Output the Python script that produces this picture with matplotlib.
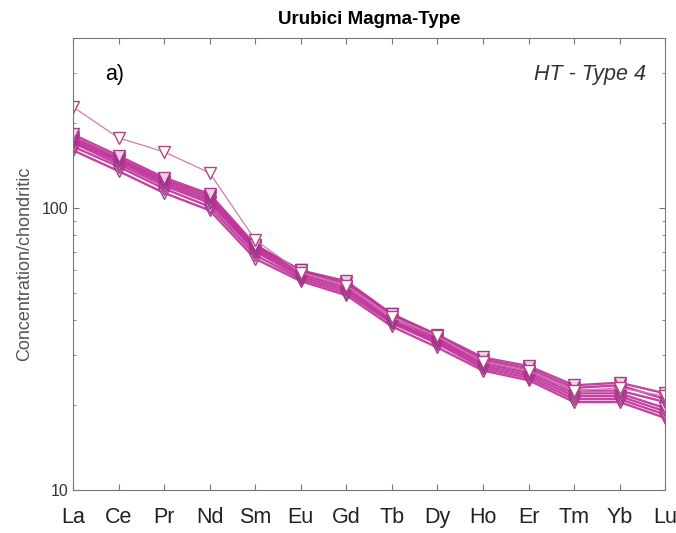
import numpy as np
import matplotlib.pyplot as plt
from matplotlib.ticker import LogLocator, NullFormatter

elements = ['La', 'Ce', 'Pr', 'Nd', 'Sm', 'Eu', 'Gd', 'Tb', 'Dy', 'Ho', 'Er', 'Tm', 'Yb', 'Lu']

# chondrite-normalised REE, HT - Type 4 samples
s1 = [160, 135, 113, 98, 66, 55, 49, 38, 32, 26.5, 24.5, 20.5, 20.5, 18.0]
s2 = [165, 140, 117, 101, 68, 56, 50, 39, 33, 27.0, 25.0, 21.0, 21.0, 18.5]
s3 = [170, 143, 120, 104, 70, 57, 51, 39.5, 33.5, 27.5, 25.5, 21.5, 21.5, 19.0]
s4 = [172, 146, 122, 106, 71, 58, 52, 40, 34, 28.0, 26.0, 22.0, 22.0, 19.5]
s5 = [175, 148, 124, 108, 72, 59, 53, 41, 34.5, 28.5, 26.5, 22.5, 22.5, 20.5]
s6 = [178, 150, 126, 110, 73, 60, 54, 42, 35, 29.0, 27.0, 23.0, 23.5, 21.0]
s7 = [182, 153, 128, 112, 74, 60, 55, 42, 35.5, 29.5, 27.5, 23.5, 24.0, 22.0]
outlier = [228, 177, 158, 133, 77, 59, 53, 41, 35, 28.5, 26.5, 22.5, 23.0, 21.5]

bundle = [s1, s2, s3, s4, s5, s6, s7]
x = np.arange(1, len(elements) + 1)

plt.rcParams['font.family'] = ['Liberation Sans', 'DejaVu Sans']

fig = plt.figure(figsize=(6.76, 5.33), dpi=100)
ax = fig.add_axes([0.108, 0.0807, 0.876, 0.848])

line_col = '#BE3098'
for s in bundle:
    ax.plot(x, s, color=line_col, lw=1.7, marker='v', ms=8,
            mfc='#F6D8EC', mec='#9A2C80', mew=1.0, alpha=0.9)
ax.plot(x, outlier, color='#D27AB6', lw=0.9, marker='v', ms=9,
        mfc='white', mec='#B0477F', mew=1.0)

ax.set_yscale('log')
ax.set_ylim(10, 400)
ax.set_xlim(1, 14)
ax.set_xticks(x)
ax.set_xticklabels(elements, fontsize=15.5, color='#222222')
ax.set_yticks([10, 100])
ax.set_yticklabels(['10', '100'], fontsize=11.5, color='#333333')
ax.yaxis.set_minor_locator(LogLocator(base=10, subs=np.arange(2, 10)))
ax.yaxis.set_minor_formatter(NullFormatter())
ax.tick_params(which='both', direction='in', top=True, right=True, color='#777777')
ax.tick_params(which='major', length=4)
ax.tick_params(which='minor', length=2.5)
ax.tick_params(axis='x', pad=12)
for sp in ax.spines.values():
    sp.set_color('#777777')

ax.set_ylabel('Concentration/chondritic', fontsize=13, color='#555555', labelpad=6)
ax.set_title('Urubici Magma-Type', fontsize=13.5, fontweight='bold', pad=10)
ax.text(0.055, 0.92, 'a)', transform=ax.transAxes, fontsize=15.5, va='center')
ax.text(0.967, 0.92, 'HT - Type 4', transform=ax.transAxes, fontsize=15.5,
        style='italic', ha='right', va='center', color='#333333')

fig.savefig('out.png', dpi=100)
